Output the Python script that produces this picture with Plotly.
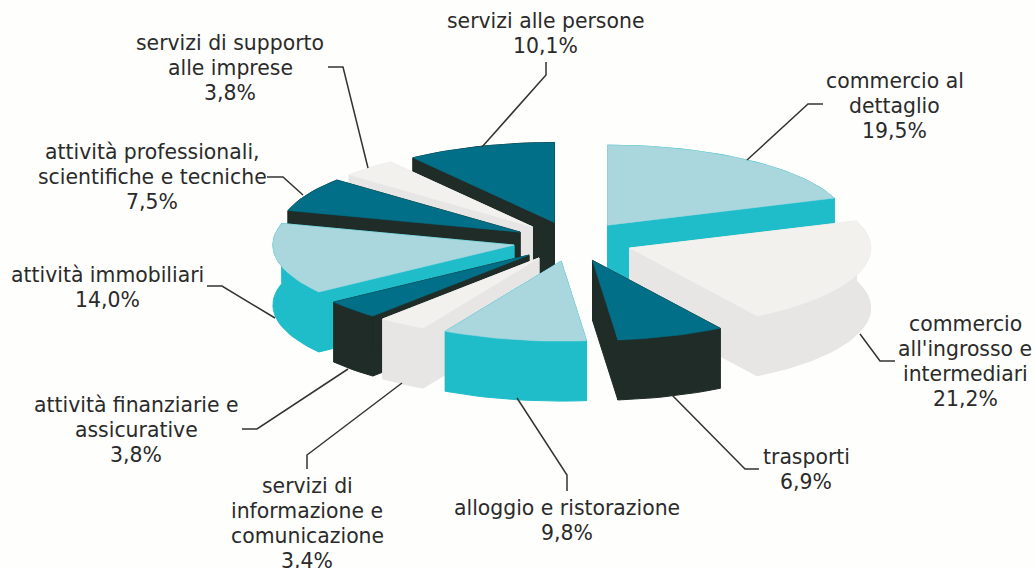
import math
import plotly.graph_objects as go

# ---- data (clockwise from 12 o'clock) ----
categories = ["commercio al dettaglio", "commercio all'ingrosso e intermediari", "trasporti",
              "alloggio e ristorazione", "servizi di informazione e comunicazione",
              "attività finanziarie e assicurative", "attività immobiliari",
              "attività professionali, scientifiche e tecniche",
              "servizi di supporto alle imprese", "servizi alle persone"]
values = [19.5, 21.2, 6.9, 9.8, 3.4, 3.8, 14.0, 7.5, 3.8, 10.1]

label_lines = [["commercio al", "dettaglio", "19,5%"],
               ["commercio", "all'ingrosso e", "intermediari", "21,2%"],
               ["trasporti", "6,9%"],
               ["alloggio e ristorazione", "9,8%"],
               ["servizi di", "informazione e", "comunicazione", "3,4%"],
               ["attività finanziarie e", "assicurative", "3,8%"],
               ["attività immobiliari", "14,0%"],
               ["attività professionali,", "scientifiche e tecniche", "7,5%"],
               ["servizi di supporto", "alle imprese", "3,8%"],
               ["servizi alle persone", "10,1%"]]

# ---- styling / layout ----
TOP_BLUE, WALL_CYAN = "#AAD7DE", "#1FBDC9"
TOP_WHITE, WALL_GREY = "#F3F1EE", "#E7E6E5"
TOP_TEAL, WALL_DARK = "#006F87", "#1F2C27"
styles = [(TOP_BLUE, WALL_CYAN), (TOP_WHITE, WALL_GREY), (TOP_TEAL, WALL_DARK),
          (TOP_BLUE, WALL_CYAN), (TOP_WHITE, WALL_GREY), (TOP_TEAL, WALL_DARK),
          (TOP_BLUE, WALL_CYAN), (TOP_TEAL, WALL_DARK), (TOP_WHITE, WALL_GREY),
          (TOP_TEAL, WALL_DARK)]
paint_order = [9, 8, 7, 0, 6, 5, 4, 1, 3, 2]
# the printed pie's sector edges sit slightly off the exact shares (degrees)
edge_nudge = [0, 0, 1.5, 2.6, 2.1, 1.5, 1.5, 2.7, 0.6, 0.4, 0]
CX, CY, RX, RY, WALL = 573, 241.5, 241, 80, 60
EXPL_X, EXPL_Y = 60, 20
label_pos = [(894.5, 81), (965, 324), (806, 457), (567, 508), (307, 486),
             (136, 405), (107, 275), (152, 152), (230, 43), (545, 21)]
LINE_H = 25
leaders = [[(747, 160), (808, 104), (823, 104)],
           [(860, 334), (880, 361), (895, 361)],
           [(672, 395), (745, 469), (759, 469)],
           [(517, 398), (567, 475), (567, 491)],
           [(402, 383), (307, 455), (307, 469)],
           [(348, 369), (257, 429), (242, 429)],
           [(275, 318), (222, 286), (207, 286)],
           [(303, 195), (283, 177), (267, 177)],
           [(368, 168), (343, 67), (328, 67)],
           [(482, 147), (546, 75), (546, 62)]]

fig = go.Figure()


def poly(xs, ys, color, lw=0.6):
    fig.add_trace(go.Scatter(x=xs, y=ys, mode="lines", fill="toself", fillcolor=color,
                             line=dict(color=color, width=lw), hoverinfo="skip", showlegend=False))


# sector edges from the values
total = sum(values)
edges = [0.0]
for v in values:
    edges.append(edges[-1] + v / total * 360)
edges = [e + n for e, n in zip(edges, edge_nudge)]

for i in paint_order:
    a0, a1 = edges[i], edges[i + 1]
    mid = math.radians((a0 + a1) / 2)
    ax = CX + EXPL_X * math.sin(mid)
    ay = CY - EXPL_Y * math.cos(mid)
    steps = max(2, int((a1 - a0) / 2))
    angs = [math.radians(a0 + (a1 - a0) * k / steps) for k in range(steps + 1)]
    arc_x = [ax + RX * math.sin(t) for t in angs]
    arc_y = [ay - RY * math.cos(t) for t in angs]
    top, wall = styles[i]
    # radial faces
    for ex, ey in ((arc_x[0], arc_y[0]), (arc_x[-1], arc_y[-1])):
        poly([ax, ex, ex, ax, ax], [ay, ey, ey + WALL, ay + WALL, ay], wall, 1)
    # outer face
    poly(arc_x + arc_x[::-1] + [arc_x[0]], arc_y + [y + WALL for y in arc_y[::-1]] + [arc_y[0]], wall, 1)
    # top face
    poly([ax] + arc_x + [ax], [ay] + arc_y + [ay], top)

for pts in leaders:
    fig.add_trace(go.Scatter(x=[p[0] for p in pts], y=[p[1] for p in pts], mode="lines",
                             line=dict(color="#333333", width=1.5), hoverinfo="skip", showlegend=False))

annotations = []
for lines, (lx, ly) in zip(label_lines, label_pos):
    for k, line in enumerate(lines):
        annotations.append(dict(x=lx, y=ly + k * LINE_H, xref="x", yref="y", text=line, showarrow=False,
                                font=dict(family="DejaVu Sans", size=20.4, color="#2A2A2A"),
                                xanchor="center", yanchor="middle"))

fig.update_layout(width=1035, height=568, margin=dict(l=0, r=0, t=0, b=0),
                  paper_bgcolor="#FEFEFC", plot_bgcolor="#FEFEFC", annotations=annotations,
                  xaxis=dict(range=[0, 1035], visible=False, fixedrange=True),
                  yaxis=dict(range=[568, 0], visible=False, fixedrange=True))
fig.write_html("out.html", config={"displayModeBar": False},
               post_script="document.body.style.margin='0';document.body.style.background='#FEFEFC';")
